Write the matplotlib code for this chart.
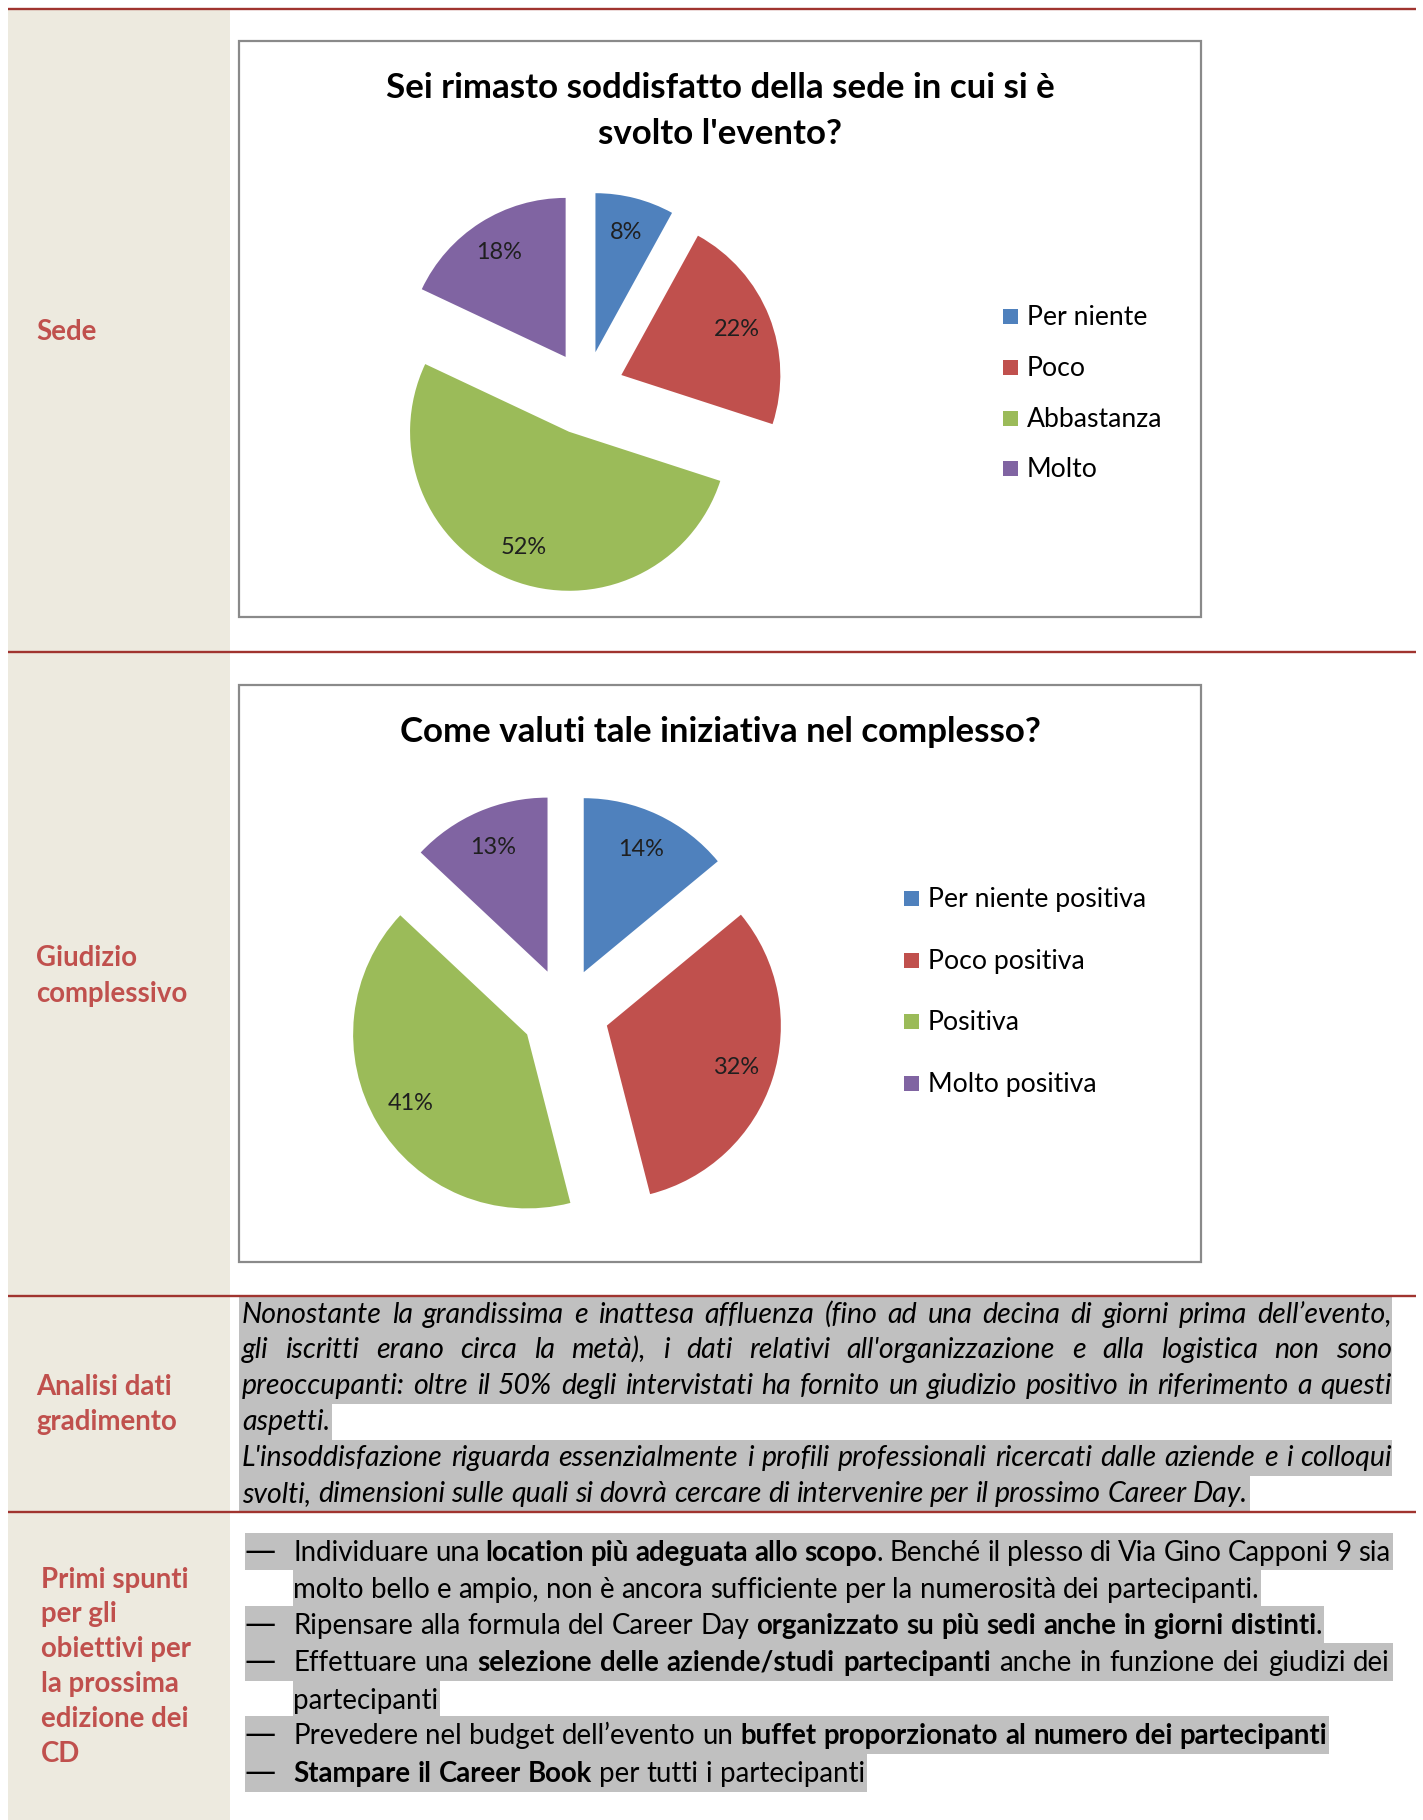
import matplotlib
matplotlib.use("Agg")
import matplotlib.pyplot as plt
from matplotlib.patches import Rectangle

W, H = 1423, 1820

# ---------------- data ----------------
q1_title = ["Sei rimasto soddisfatto della sede in cui si è", "svolto l'evento?"]
q1_labels = ["Per niente", "Poco", "Abbastanza", "Molto"]
q1_values = [8, 22, 52, 18]

q2_title = ["Come valuti tale iniziativa nel complesso?"]
q2_labels = ["Per niente positiva", "Poco positiva", "Positiva", "Molto positiva"]
q2_values = [14, 32, 41, 13]

slice_colors = ["#4F81BD", "#C0504D", "#9BBB59", "#8064A2"]

row_labels = [
    ["Sede"],
    ["Giudizio", "complessivo"],
    ["Analisi dati", "gradimento"],
    ["Primi spunti", "per gli", "obiettivi per", "la prossima", "edizione dei", "CD"],
]

paragraph = [
    ([("Nonostante la grandissima e inattesa affluenza (fino ad una decina di giorni prima dell\u2019evento,", False)], True),
    ([("gli iscritti erano circa la metà), i dati relativi all'organizzazione e alla logistica non sono", False)], True),
    ([("preoccupanti: oltre il 50% degli intervistati ha fornito un giudizio positivo in riferimento a questi", False)], True),
    ([("aspetti.", False)], False),
    ([("L'insoddisfazione riguarda essenzialmente i profili professionali ricercati dalle aziende e i colloqui", False)], True),
    ([("svolti, dimensioni sulle quali si dovrà cercare di intervenire per il prossimo Career Day.", False)], False),
]

bullets = [
    (True, [("Individuare una ", False), ("location più adeguata allo scopo", True),
            (". Benché il plesso di Via Gino Capponi 9 sia", False)], True),
    (False, [("molto bello e ampio, non è ancora sufficiente per la numerosità dei partecipanti.", False)], False),
    (True, [("Ripensare alla formula del Career Day ", False),
            ("organizzato su più sedi anche in giorni distinti", True), (".", False)], False),
    (True, [("Effettuare una ", False), ("selezione delle aziende/studi partecipanti", True),
            (" anche in funzione dei giudizi dei", False)], True),
    (False, [("partecipanti", False)], False),
    (True, [("Prevedere nel budget dell\u2019evento un ", False),
            ("buffet proporzionato al numero dei partecipanti", True)], False),
    (True, [("Stampare il Career Book", True), (" per tutti i partecipanti", False)], False),
]

# ---------------- setup ----------------
FONT = "Lato"
RED = "#C0504D"
RULE = "#A0342F"
BEIGE = "#EDEADF"
HL = "#C0C0C0"

fig = plt.figure(figsize=(W / 100, H / 100), dpi=100)
ax = fig.add_axes([0, 0, 1, 1])
ax.set_xlim(0, W)
ax.set_ylim(0, H)
ax.axis("off")
rend = fig.canvas.get_renderer()


def Y(y):
    return H - y


def tw(s, size, weight="normal", style="normal", family=FONT):
    t = ax.text(0, 0, s, fontsize=size, family=family, fontweight=weight, fontstyle=style)
    w = t.get_window_extent(rend).width
    t.remove()
    return w


def space_w(size, style="normal", weight="normal"):
    return tw("n n", size, weight, style) - tw("nn", size, weight, style)


def tokens(segs):
    toks = []
    pending = False
    for text, bold in segs:
        parts = text.split(" ")
        for i, p in enumerate(parts):
            if i > 0:
                pending = True
            if p == "":
                continue
            toks.append((p, bold, pending and len(toks) > 0))
            pending = False
    return toks


def natural(segs, size, style="normal"):
    toks = tokens(segs)
    sp = space_w(size, style)
    w = 0.0
    for t, b, s in toks:
        if s:
            w += sp
        w += tw(t, size, "bold" if b else "normal", style)
    return w


def fit(segs, target, style="normal"):
    s = 10 * target / natural(segs, 10, style)
    s = s * target / natural(segs, s, style)
    return s


def draw_line(segs, x0, baseline, size, style="normal", justify_to=None, color="black"):
    toks = tokens(segs)
    sp = space_w(size, style)
    ws = [tw(t, size, "bold" if b else "normal", style) for t, b, s in toks]
    nsp = sum(1 for t in toks if t[2])
    nat = sum(ws) + nsp * sp
    if justify_to is not None and nsp > 0:
        sp = sp + (justify_to - x0 - nat) / nsp
    x = x0
    for (t, b, s), w in zip(toks, ws):
        if s:
            x += sp
        ax.text(x, Y(baseline), t, fontsize=size, family=FONT,
                fontweight="bold" if b else "normal", fontstyle=style,
                ha="left", va="baseline", color=color, zorder=6)
        x += w
    return x


def hbox(x0, x1, top, bottom, color=HL, z=2):
    ax.add_patch(Rectangle((x0, Y(bottom)), x1 - x0, bottom - top,
                           facecolor=color, edgecolor="none", zorder=z))


# ---------------- table frame ----------------
hbox(8, 230, 10, H, BEIGE, 0.5)
for yy in [9, 652, 1296, 1512]:
    ax.plot([8, 1416], [Y(yy), Y(yy)], color=RULE, lw=1.7, zorder=7,
            solid_capstyle="butt")

# left labels
lab_size = fit([("obiettivi per", True)], 150)
lab_pos = [
    (36, [340]),
    (36, [966, 1002]),
    (36, [1395, 1430]),
    (41, [1588, 1622, 1657, 1692, 1727, 1762]),
]
for lines, (lx, bls) in zip(row_labels, lab_pos):
    for txt, bl in zip(lines, bls):
        ax.text(lx, Y(bl), txt, fontsize=lab_size, family=FONT, fontweight="bold",
                color=RED, ha="left", va="baseline", zorder=6)

# ---------------- charts ----------------
title_size = fit([(q1_title[0], True)], 672)
pct_size = fit([("52%", False)], 46)
leg_size = fit([(q1_labels[0], False)], 120)


def chart(box, titles, title_bl, labels, values, center, radius, explode, pctd,
          leg_x, leg_tx, leg_bl):
    x0, y0, x1, y1 = box
    ax.add_patch(Rectangle((x0, Y(y1)), x1 - x0, y1 - y0, facecolor="white",
                           edgecolor="#8A8A8A", lw=1.6, zorder=1))
    for t, bl in zip(titles, title_bl):
        ax.text((x0 + x1) / 2, Y(bl), t, fontsize=title_size, family=FONT,
                fontweight="bold", ha="center", va="baseline", color="black", zorder=6)
    ax.pie(values, explode=explode, colors=slice_colors, autopct="%1.0f%%",
           pctdistance=pctd, startangle=90, counterclock=False, radius=radius,
           center=(center[0], Y(center[1])), frame=True,
           wedgeprops=dict(linewidth=0, zorder=3),
           textprops=dict(fontsize=pct_size, family=FONT, color="#1F1F1F", zorder=6))
    for lab, col, bl in zip(labels, slice_colors, leg_bl):
        ax.add_patch(Rectangle((leg_x, Y(bl - 1)), 15, 15, facecolor=col,
                               edgecolor="none", zorder=4))
        ax.text(leg_tx, Y(bl), lab, fontsize=leg_size, family=FONT, color="black",
                ha="left", va="baseline", zorder=6)


chart((239, 41, 1201, 617), q1_title, [98, 144], q1_labels, q1_values,
      (586, 389), 159, [38, 38, 46, 38], 0.78, 1003, 1027, [325, 376, 427, 477])
chart((239, 685, 1201, 1262), q2_title, [742], q2_labels, q2_values,
      (565, 1012), 174, [44, 44, 44, 44], 0.78, 904, 928, [907, 969, 1030, 1092])

ax.set_xlim(0, W)
ax.set_ylim(0, H)
ax.set_aspect("auto")
ax.axis("off")

# ---------------- paragraph ----------------
par_size = fit(paragraph[5][0], 1012, "italic")
par_tops = [1297, 1332, 1368, 1404, 1440, 1476, 1512]
for i, (segs, just) in enumerate(paragraph):
    top, bot = par_tops[i], par_tops[i + 1]
    end = draw_line(segs, 242, top + 26, par_size, "italic",
                    justify_to=1392 if just else None)
    hbox(239, 1392 if just else end + 2, top, bot)

# ---------------- bullets ----------------
bul_size = fit(bullets[5][1], 1033)
DASH_FONT = "DejaVu Sans"
dash_size = 10 * 31 / tw("\u2014", 10, family=DASH_FONT)
bul_tops = [1533, 1570, 1606, 1643, 1681, 1716, 1754, 1792]
for i, (dash, segs, just) in enumerate(bullets):
    top, bot = bul_tops[i], bul_tops[i + 1]
    bl = top + 28
    if dash:
        ax.text(244, Y(bl - 1), "\u2014", fontsize=dash_size, family=DASH_FONT,
                color="black", ha="left", va="baseline", zorder=6)
    end = draw_line(segs, 293, bl, bul_size, "normal",
                    justify_to=1390 if just else None)
    hbox(245 if dash else 293, 1393 if just else end + 2, top, bot)

fig.savefig("out.png", dpi=100, facecolor="white")
